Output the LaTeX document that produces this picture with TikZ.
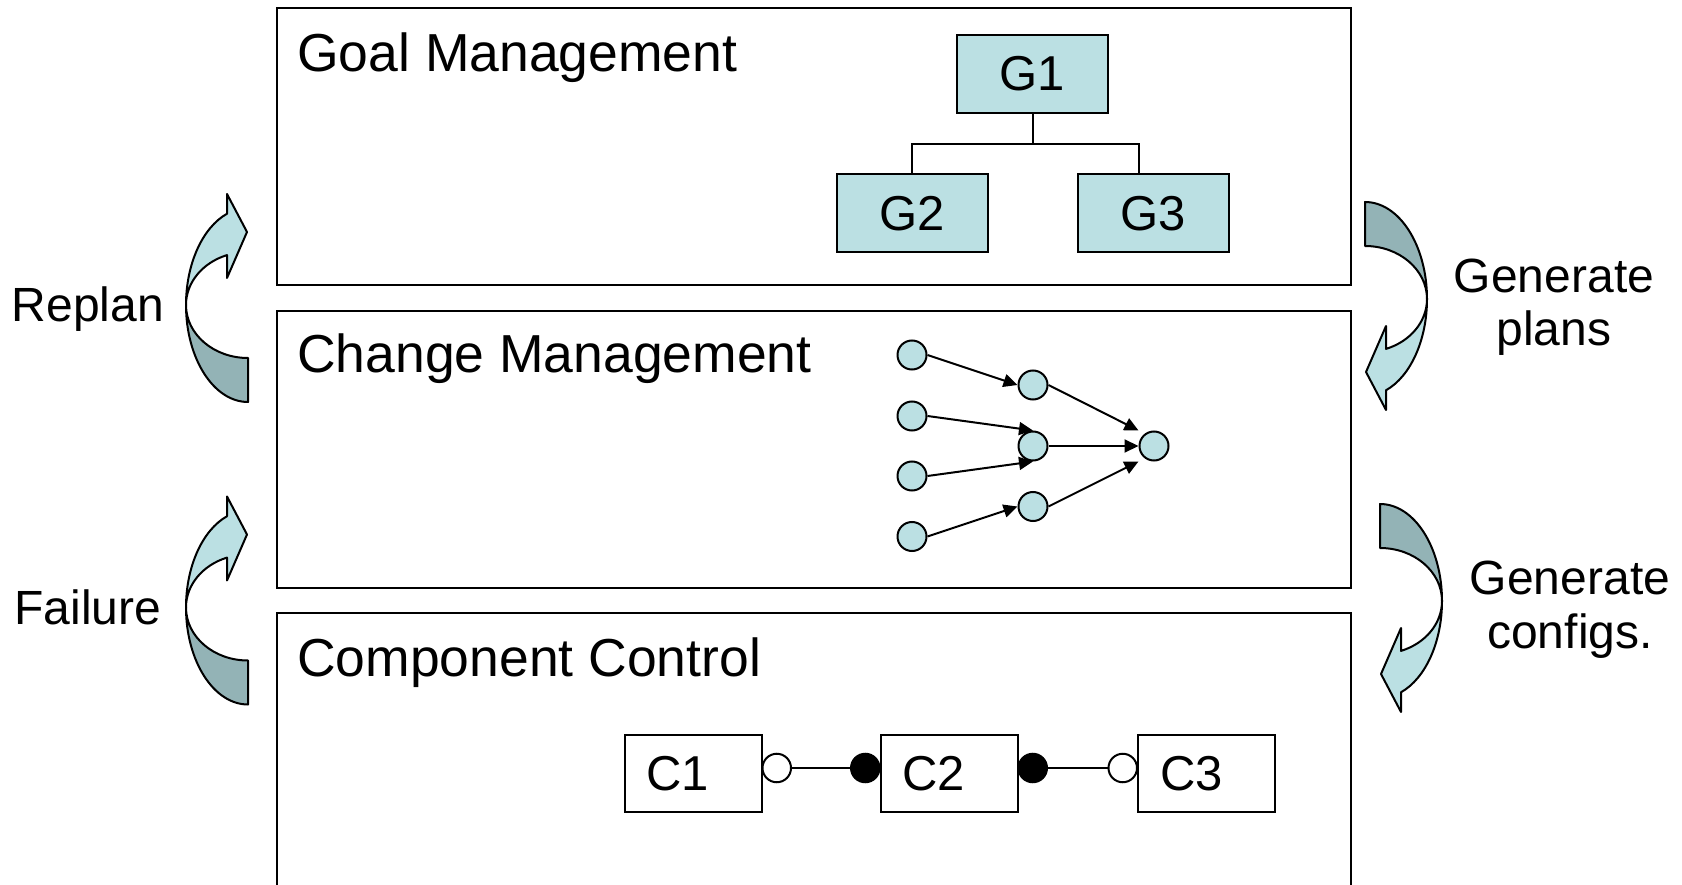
\documentclass[tikz,border=0pt]{standalone}
\usepackage{fontspec}
\setmainfont{Liberation Sans}
\usetikzlibrary{arrows.meta,calc}
\definecolor{paleteal}{RGB}{187,224,227}
\definecolor{shadeteal}{RGB}{147,179,182}

\tikzset{
  % twisted curved arrow: dark tail band below, light band with head above
  twistarrow/.pic={
    \filldraw[fill=shadeteal, line width=2, line join=round]
      (0,97) arc[start angle=90, end angle=180, x radius=62, y radius=97]
             arc[start angle=180, end angle=90, x radius=62, y radius=53] -- cycle;
    \filldraw[fill=paleteal, line width=2, line join=round]
      (-62,0) arc[start angle=180, end angle=250.2, x radius=62, y radius=97]
      -- (-21,-111) -- (-1,-73) -- (-21,-27) -- (-21,-49.9)
      arc[start angle=250.2, end angle=180, x radius=62, y radius=53] -- cycle;
  }
}

\begin{document}
\begin{tikzpicture}[x=1pt, y=-1pt,
  layer/.style={draw=black, line width=2},
  title/.style={anchor=base west, inner sep=0, font=\fontsize{53.5}{64}\selectfont},
  side/.style={anchor=base, align=center, inner sep=0, font=\fontsize{48}{54}\selectfont},
  goal/.style={draw, line width=2, fill=paleteal, minimum width=151, minimum height=78,
    inner sep=0, font=\fontsize{49}{55}\selectfont},
  comp/.style={draw, line width=2, fill=white, minimum height=77, text width=93,
    inner xsep=22, inner ysep=0, align=left, font=\fontsize{49}{55}\selectfont},
  dot/.style={circle, draw, line width=2, fill=paleteal, minimum size=29, inner sep=0},
  flow/.style={line width=2, -{Triangle[length=14,width=13]}},
  tree/.style={line width=2},
  plug/.style={circle, draw, line width=2, minimum size=28.5, inner sep=0},
  socket/.style={plug, fill=white},
  ball/.style={plug, fill=black},
  wire/.style={line width=2}
]
\useasboundingbox (0,0) rectangle (1682,885);

% the three layers
\draw[layer] (277,8) rectangle (1351,285);
\draw[layer] (277,311) rectangle (1351,588);
\draw[layer] (277,613) rectangle (1351,905);

\node[title] (tgoal) at (297,72) {Goal Management};
\node[title] (tchange) at (297,373) {Change Management};
\node[title] (tcomp) at (297,676) {Component Control};

% goal tree
\node[goal] (G1) at (1032.5,74) {G1};
\node[goal] (G2) at (912,213.5) {G2};
\node[goal] (G3) at (1153.5,213.5) {G3};
\coordinate (bus) at ($(G1.south)+(0,30)$);
\coordinate (g3top) at ($(G3.north)+(-14.5,0)$);
\draw[tree] (G1.south) -- (bus);
\draw[tree] (G2.north) |- (bus) -| (g3top);

% change graph
\node[dot] (a1) at (912,355) {};
\node[dot] (a2) at (912,416) {};
\node[dot] (a3) at (912,476) {};
\node[dot] (a4) at (912,536.5) {};
\node[dot] (b1) at (1033,385) {};
\node[dot] (b2) at (1033,446) {};
\node[dot] (b3) at (1033,506.5) {};
\node[dot] (c) at (1154,446) {};
\draw[flow] (a1.east) -- (b1.west);
\draw[flow] (a2.east) -- (b2.north);
\draw[flow] (a3.east) -- (b2.south);
\draw[flow] (a4.east) -- (b3.west);
\draw[flow] (b1.east) -- (c.west |- c.north);
\draw[flow] (b2.east) -- (c.west);
\draw[flow] (b3.east) -- (c.west |- c.south);

% components
\node[comp] (C1) at (693,773.5) {C1};
\node[comp] (C2) at (949,773.5) {C2};
\node[comp] (C3) at (1206.5,773.5) {C3};
\node[socket, anchor=west] (s1) at ($(C1.east)+(-1,-5.5)$) {};
\node[ball, anchor=east] (p1) at ($(C2.west)+(1,-5.5)$) {};
\node[ball, anchor=west] (p2) at ($(C2.east)+(-1,-5.5)$) {};
\node[socket, anchor=east] (s2) at ($(C3.west)+(1,-5.5)$) {};
\draw[wire] (s1) -- (p1);
\draw[wire] (p2) -- (s2);

% feedback arrows and labels
\pic at (248,305) {twistarrow};
\pic at (248,607.5) {twistarrow};
\pic[rotate=180] at (1365,299) {twistarrow};
\pic[rotate=180] at (1380,601) {twistarrow};

\node[side] (replan) at (88,322) {Replan};
\node[side] (failure) at (88,624) {Failure};
\node[side] (genplans) at (1554,346) {Generate\\plans};
\node[side] (genconf) at (1570,648) {Generate\\configs.};
\end{tikzpicture}
\end{document}
